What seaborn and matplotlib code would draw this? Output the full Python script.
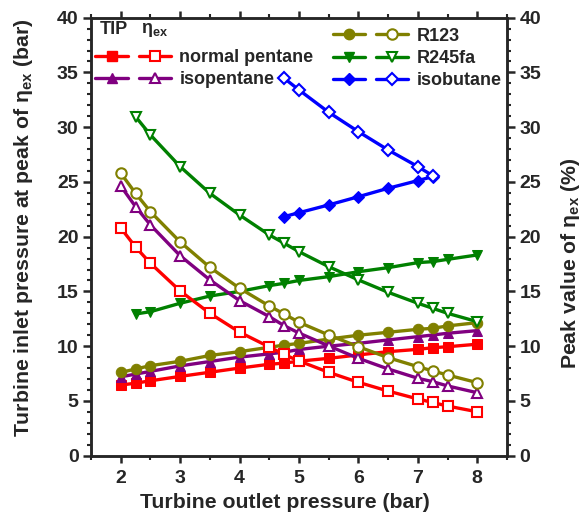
import seaborn as sns
import matplotlib.pyplot as plt
from matplotlib.lines import Line2D
from matplotlib.ticker import MultipleLocator

sns.set_style("ticks")
plt.rcParams['font.family'] = ['Liberation Sans', 'DejaVu Sans']
plt.rcParams['font.weight'] = 'bold'
plt.rcParams['mathtext.fontset'] = 'custom'
plt.rcParams['mathtext.rm'] = 'Liberation Sans:bold'
plt.rcParams['mathtext.bf'] = 'Liberation Sans:bold'
plt.rcParams['mathtext.it'] = 'Liberation Sans:bold'
plt.rcParams['mathtext.default'] = 'bf'

# turbine outlet pressure (bar)
x_all = [2, 2.25, 2.5, 3, 3.5, 4, 4.5, 4.75, 5, 5.5, 6, 6.5, 7, 7.25, 7.5, 8]
x_r245fa = [2.25, 2.5, 3, 3.5, 4, 4.5, 4.75, 5, 5.5, 6, 6.5, 7, 7.25, 7.5, 8]
x_isobutane = [4.75, 5, 5.5, 6, 6.5, 7, 7.25]

# TIP at peak of eta_ex (bar)
np_tip = [6.45, 6.62, 6.84, 7.24, 7.62, 8.0, 8.35, 8.45, 8.63, 8.89, 9.2, 9.5, 9.71, 9.86, 9.95, 10.18]
iso_tip = [7.2, 7.45, 7.7, 8.2, 8.6, 9.0, 9.3, 9.45, 9.7, 10.0, 10.26, 10.57, 10.87, 11.02, 11.18, 11.42]
r123_tip = [7.6, 7.92, 8.22, 8.62, 9.15, 9.5, 9.9, 10.1, 10.25, 10.65, 11.0, 11.27, 11.54, 11.63, 11.85, 12.15]
r245fa_tip = [12.94, 13.15, 13.92, 14.58, 15.0, 15.53, 15.74, 16.0, 16.35, 16.8, 17.17, 17.63, 17.72, 17.93, 18.33]
isobutane_tip = [21.83, 22.19, 22.9, 23.65, 24.42, 25.12, 25.48]

# peak eta_ex (%)
np_eta = [20.8, 19.05, 17.57, 15.04, 13.0, 11.28, 9.93, 9.24, 8.65, 7.61, 6.70, 5.9, 5.18, 4.86, 4.53, 4.01]
iso_eta = [24.63, 22.74, 21.07, 18.26, 16.05, 14.16, 12.7, 11.87, 11.2, 10.02, 8.89, 7.92, 7.07, 6.76, 6.37, 5.75]
r123_eta = [25.8, 23.96, 22.28, 19.52, 17.2, 15.29, 13.67, 12.94, 12.18, 11.02, 9.95, 8.95, 8.13, 7.74, 7.37, 6.67]
r245fa_eta = [30.96, 29.29, 26.4, 23.96, 21.98, 20.16, 19.4, 18.63, 17.26, 16.05, 14.92, 13.92, 13.46, 13.0, 12.24]
isobutane_eta = [34.47, 33.4, 31.36, 29.59, 27.92, 26.4, 25.57]

fluids = [
    ("normal pentane", "#FF0000", "s", x_all, np_tip, np_eta),
    ("isopentane", "#800080", "^", x_all, iso_tip, iso_eta),
    ("R123", "#808000", "o", x_all, r123_tip, r123_eta),
    ("R245fa", "#008000", "v", x_r245fa, r245fa_tip, r245fa_eta),
    ("isobutane", "#0000FF", "D", x_isobutane, isobutane_tip, isobutane_eta),
]

fig = plt.figure(figsize=(5.85, 5.29), dpi=100)
ax = fig.add_axes([0.1556, 0.1386, 0.711, 0.828])
ax2 = ax.twinx()

lw = 2.4
ms = 7.5
handles_tip = {}
handles_eta = {}
for name, c, m, xs, tip, eta in fluids:
    msz = ms - 1 if m == "D" else ms
    sns.lineplot(x=xs, y=tip, ax=ax, color=c, marker=m, markersize=msz,
                 markerfacecolor=c, markeredgecolor=c, lw=lw, sort=False)
    sns.lineplot(x=xs, y=eta, ax=ax2, color=c, marker=m, markersize=msz,
                 markerfacecolor="white", markeredgecolor=c, markeredgewidth=1.5,
                 lw=lw, sort=False)
    handles_tip[name] = Line2D([], [], color=c, marker=m, markersize=msz,
                               markerfacecolor=c, markeredgecolor=c, lw=lw)
    handles_eta[name] = Line2D([], [], color=c, marker=m, markersize=msz,
                               markerfacecolor="white", markeredgecolor=c,
                               markeredgewidth=1.5, lw=lw)

for a in (ax, ax2):
    a.set_xlim(1.5, 8.5)
    a.set_ylim(0, 40)
    a.yaxis.set_major_locator(MultipleLocator(5))
    a.yaxis.set_minor_locator(MultipleLocator(1))
    for s in a.spines.values():
        s.set_linewidth(1.8)
        s.set_visible(True)

ax.xaxis.set_major_locator(MultipleLocator(1))
ax.xaxis.set_minor_locator(MultipleLocator(0.5))
ax.tick_params(axis='both', which='major', direction='out', length=6, width=1.8,
               labelsize=14, pad=3)
ax.tick_params(axis='both', which='minor', direction='out', length=3, width=1.5)
ax.tick_params(axis='x', which='both', top=True)
ax.tick_params(axis='x', which='major', length=5, pad=5)
ax2.tick_params(axis='y', which='major', direction='out', length=6, width=1.8,
                labelsize=14, pad=3)
ax2.tick_params(axis='y', which='minor', direction='out', length=3, width=1.5)
for t in ax.get_xticklabels() + ax.get_yticklabels() + ax2.get_yticklabels():
    t.set_fontweight('bold')

ax.set_xlabel("Turbine outlet pressure (bar)", fontsize=15.3, fontweight='bold')
ax.xaxis.set_label_coords(0.465, -0.085)
ax.set_ylabel(r"Turbine inlet pressure at peak of $\eta_{ex}$ (bar)", fontsize=15.3,
              fontweight='bold')
ax.yaxis.set_label_coords(-0.135, 0.521)
ax2.set_ylabel(r"Peak value of $\eta_{ex}$ (%)", fontsize=15.3, fontweight='bold')
ax2.yaxis.set_label_coords(1.125, 0.44)

leg_kw = dict(frameon=False, ncol=2, handlelength=1.8, handletextpad=0.45,
              columnspacing=0.15, labelspacing=0.3, borderpad=0,
              prop={'weight': 'bold', 'size': 13})
left_names = ["normal pentane", "isopentane"]
leg1 = ax2.legend([handles_tip[n] for n in left_names] + [handles_eta[n] for n in left_names],
                  [""] * 2 + left_names, loc='upper left',
                  bbox_to_anchor=(-0.011, 0.949), **leg_kw)
ax2.add_artist(leg1)
right_names = ["R123", "R245fa", "isobutane"]
ax2.legend([handles_tip[n] for n in right_names] + [handles_eta[n] for n in right_names],
           [""] * 3 + right_names, loc='upper left',
           bbox_to_anchor=(0.559, 0.998), **leg_kw)
ax2.text(0.022, 0.972, "TIP", transform=ax2.transAxes, fontsize=13, fontweight='bold',
         va='center')
ax2.text(0.12, 0.972, r"$\eta_{ex}$", transform=ax2.transAxes, fontsize=13,
         va='center')

fig.savefig("out.png", dpi=100)
